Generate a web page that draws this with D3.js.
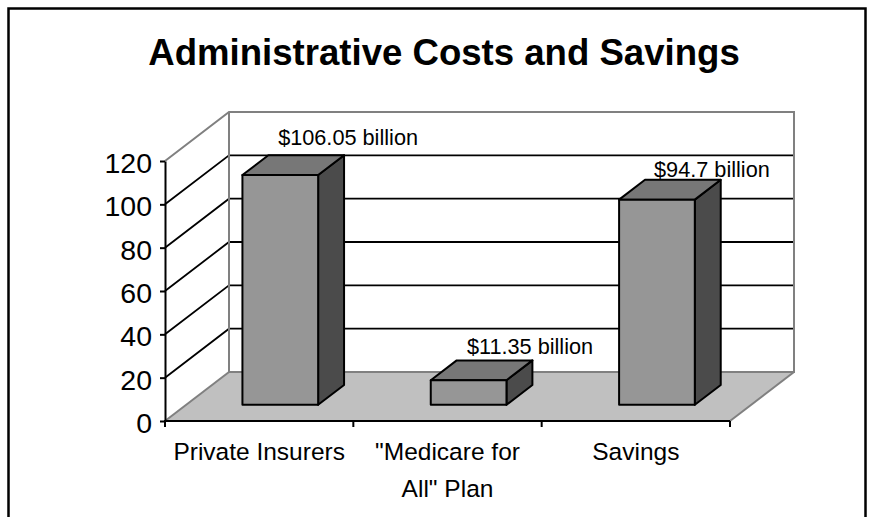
<!DOCTYPE html>
<html>
<head>
<meta charset="utf-8">
<script src="https://cdn.jsdelivr.net/npm/d3@7"></script>
<style>
  html, body { margin: 0; padding: 0; background: #fff; }
  svg { display: block; }
  text { font-family: "Liberation Sans", Arial, sans-serif; fill: #000; }
</style>
</head>
<body>
<svg id="chart" width="872" height="517"></svg>
<script>
// ---- data ----
const categories = ["Private Insurers", "\"Medicare for All\" Plan", "Savings"];
const categoryLines = [["Private Insurers"], ["\"Medicare for", "All\" Plan"], ["Savings"]];
const values = [106.05, 11.35, 94.7];
const valueLabels = ["$106.05 billion", "$11.35 billion", "$94.7 billion"];
const yTicks = [0, 20, 40, 60, 80, 100, 120];
const titleText = "Administrative Costs and Savings";

// ---- layout ----
const W = 872, H = 517;
const plotLeft = 165, plotRight = 730, yBase = 421, yTop = 161;
const DX = 64, DY = -49;          // full depth offset of the 3D floor
const d0 = 0.33, d1 = 0.735;       // bar depth range (fraction of floor depth)
const barFrac = 0.402;

const svg = d3.select("#chart");

const x = d3.scaleBand().domain(categories).range([plotLeft, plotRight]).padding(0);
const y = d3.scaleLinear().domain([0, 120]).range([yBase, yTop]);
const bw = x.bandwidth();

function P(px, v, d) { return [px + d * DX, y(v) + d * DY]; }
const line = d3.line();

// outer frame
svg.append("rect")
  .attr("x", 8.5).attr("y", 8.5).attr("width", W - 15).attr("height", H + 20)
  .attr("fill", "none").attr("stroke", "#000").attr("stroke-width", 2.5);

// title
svg.append("text")
  .attr("x", 444).attr("y", 65)
  .attr("text-anchor", "middle")
  .attr("font-size", 36.6).attr("font-weight", "bold")
  .text(titleText);

const wallStroke = "#808080";
const yMax = y.domain()[1];

// back wall
const bw0 = P(plotLeft, 0, 1), bw1 = P(plotRight, 0, 1), bw2 = P(plotRight, yMax, 1), bw3 = P(plotLeft, yMax, 1);
svg.append("path").attr("d", line([bw0, bw1, bw2, bw3]) + "Z")
  .attr("fill", "#fff").attr("stroke", "none");

// side wall
const sw = [P(plotLeft, 0, 0), P(plotLeft, 0, 1), P(plotLeft, yMax, 1), P(plotLeft, yMax, 0)];
svg.append("path").attr("d", line(sw) + "Z").attr("fill", "#fff").attr("stroke", "none");

// floor
const fl = [P(plotLeft, 0, 0), P(plotRight, 0, 0), P(plotRight, 0, 1), P(plotLeft, 0, 1)];
svg.append("path").attr("d", line(fl) + "Z").attr("fill", "#c0c0c0").attr("stroke", "none");

// gridlines (interior ticks)
yTicks.filter(t => t > 0 && t < yMax).forEach(t => {
  svg.append("path")
    .attr("d", line([P(plotLeft, t, 0), P(plotLeft, t, 1), P(plotRight, t, 1)]))
    .attr("fill", "none").attr("stroke", "#000").attr("stroke-width", 1.8);
});

// wall borders (gray)
svg.append("path")
  .attr("d", line([P(plotLeft, yMax, 0), P(plotLeft, yMax, 1), P(plotRight, yMax, 1), P(plotRight, 0, 1), P(plotLeft, 0, 1), P(plotLeft, yMax, 1)]))
  .attr("fill", "none").attr("stroke", wallStroke).attr("stroke-width", 2);
svg.append("path")
  .attr("d", line([P(plotLeft, 0, 0), P(plotLeft, 0, 1)]))
  .attr("fill", "none").attr("stroke", wallStroke).attr("stroke-width", 2);
svg.append("path")
  .attr("d", line([P(plotRight, 0, 0), P(plotRight, 0, 1)]))
  .attr("fill", "none").attr("stroke", wallStroke).attr("stroke-width", 2);

// bars
const bars = svg.append("g");
categories.forEach((c, i) => {
  const v = values[i];
  const xl0 = x(c) + (bw - bw * barFrac) / 2;
  const xr0 = xl0 + bw * barFrac;
  const fTL = P(xl0, v, d0), fTR = P(xr0, v, d0), fBR = P(xr0, 0, d0), fBL = P(xl0, 0, d0);
  const bTL = P(xl0, v, d1), bTR = P(xr0, v, d1), bBR = P(xr0, 0, d1);
  const g = bars.append("g").attr("stroke", "#000").attr("stroke-width", 2).attr("stroke-linejoin", "round");
  g.append("path").attr("d", line([fTR, bTR, bBR, fBR]) + "Z").attr("fill", "#4b4b4b");
  g.append("path").attr("d", line([fTL, fTR, bTR, bTL]) + "Z").attr("fill", "#777777");
  g.append("path").attr("d", line([fTL, fTR, fBR, fBL]) + "Z").attr("fill", "#969696");

  // value label, placed above the rear top edge with a slight perspective drift
  const cx = (bTL[0] + bTR[0]) / 2;
  const rel = cx - P(plotLeft, 0, 1)[0];
  svg.append("text")
    .attr("x", cx + 44.5 - 0.034 * rel)
    .attr("y", bTL[1] - 11.4 + 0.0186 * rel)
    .attr("text-anchor", "middle")
    .attr("font-size", 21.7)
    .text(valueLabels[i]);
});

// y axis
const yAxis = d3.axisLeft(y).tickValues(yTicks).tickSize(5).tickPadding(8).tickSizeOuter(0);
const ga = svg.append("g").attr("transform", `translate(${plotLeft},0)`).call(yAxis);
ga.select(".domain").attr("stroke", "#000").attr("stroke-width", 2);
ga.selectAll(".tick line").attr("stroke", "#000").attr("stroke-width", 2);
ga.selectAll(".tick text").attr("font-size", 28.5).attr("dy", "0.4em")
  .attr("font-family", "\"Liberation Sans\", Arial, sans-serif").attr("fill", "#000");

// x axis
const edges = categories.map(c => x(c)).concat([x.range()[1]]);
svg.append("line").attr("x1", plotLeft - 1).attr("x2", plotRight).attr("y1", yBase).attr("y2", yBase)
  .attr("stroke", "#000").attr("stroke-width", 2);
edges.forEach(e => {
  svg.append("line").attr("x1", e).attr("x2", e).attr("y1", yBase).attr("y2", yBase + 6)
    .attr("stroke", "#000").attr("stroke-width", 2);
});
categories.forEach((c, i) => {
  const t = svg.append("text").attr("text-anchor", "middle").attr("font-size", 24.5);
  categoryLines[i].forEach((ln, j) => {
    t.append("tspan").attr("x", x(c) + bw / 2).attr("y", 460 + j * 37).text(ln);
  });
});
</script>
</body>
</html>
